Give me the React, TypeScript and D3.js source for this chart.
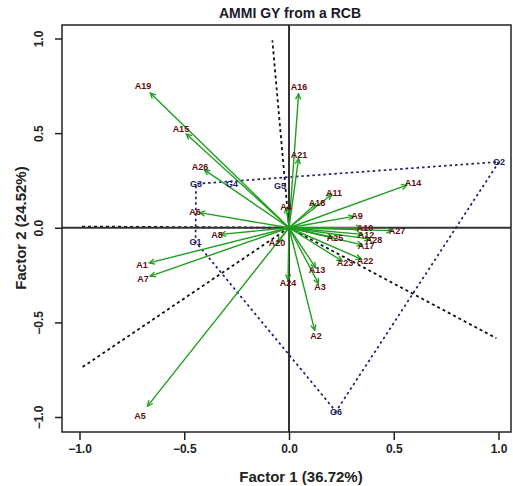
import React, { useEffect, useRef } from 'react';
import * as d3 from 'd3';

// genotype scores (arrows)
const genotypes = ['A1', 'A2', 'A3', 'A4', 'A5', 'A6', 'A7', 'A8', 'A9', 'A10', 'A11', 'A12', 'A13', 'A14',
  'A15', 'A16', 'A17', 'A18', 'A19', 'A20', 'A21', 'A22', 'A23', 'A24', 'A25', 'A26', 'A27', 'A28'];
const genoPC1 = [-0.702, 0.129, 0.148, -0.014, -0.711, -0.449, -0.697, -0.344, 0.325, 0.363, 0.215, 0.368, 0.134, 0.592,
  -0.516, 0.048, 0.368, 0.134, -0.697, -0.057, 0.048, 0.363, 0.267, -0.005, 0.22, -0.425, 0.516, 0.406];
const genoPC2 = [-0.195, -0.57, -0.311, 0.111, -0.992, 0.084, -0.269, -0.037, 0.063, 0.0, 0.185, -0.037, -0.222, 0.237,
  0.522, 0.744, -0.095, 0.132, 0.749, -0.079, 0.385, -0.174, -0.185, -0.29, -0.053, 0.322, -0.016, -0.063];

// environment scores
const envs = ['G1', 'G2', 'G3', 'G4', 'G5', 'G6'];
const envPC1 = [-0.446, 1.002, -0.444, -0.272, -0.043, 0.224];
const envPC2 = [-0.074, 0.348, 0.232, 0.232, 0.222, -0.971];

const xTicks = [-1, -0.5, 0, 0.5, 1];
const yTicks = [-1, -0.5, 0, 0.5, 1];

const title = 'AMMI GY from a RCB';
const xLabel = 'Factor 1 (36.72%)';
const yLabel = 'Factor 2 (24.52%)';

const App = () => {
  const ref = useRef(null);

  useEffect(() => {
    const W = 513, H = 486;
    const box = { left: 62, right: 511, top: 25, bottom: 432 };
    const font = 'Liberation Sans, Arial, sans-serif';

    const svg = d3.select(ref.current);
    svg.selectAll('*').remove();
    svg.attr('width', W).attr('height', H);

    const x = d3.scaleLinear().domain([-1, 1]).range([79.5, 498.5]);
    const y = d3.scaleLinear().domain([-1, 1]).range([417, 38.5]);
    const fmt = (d) => d3.format('.1f')(d);

    svg.append('rect').attr('width', W).attr('height', H).attr('fill', '#fff');

    svg.append('defs').append('clipPath').attr('id', 'plotclip')
      .append('rect')
      .attr('x', box.left).attr('y', box.top)
      .attr('width', box.right - box.left).attr('height', box.bottom - box.top);

    const g = svg.append('g').attr('clip-path', 'url(#plotclip)');

    // convex hull of environments + perpendicular rays
    const pts = envs.map((_, i) => [envPC1[i], envPC2[i]]);
    const hull = d3.polygonHull(pts) || [];
    hull.forEach((p, i) => {
      const q = hull[(i + 1) % hull.length];
      let nx = -(q[1] - p[1]);
      let ny = q[0] - p[0];
      if (nx * p[0] + ny * p[1] < 0) { nx = -nx; ny = -ny; }
      const t = 0.99 / Math.max(Math.abs(nx), Math.abs(ny));
      g.append('line')
        .attr('x1', x(0)).attr('y1', y(0))
        .attr('x2', x(nx * t)).attr('y2', y(ny * t))
        .attr('stroke', '#111').attr('stroke-width', 1.8)
        .attr('stroke-dasharray', '3,3');
    });

    // zero lines
    g.append('line').attr('x1', box.left).attr('x2', box.right).attr('y1', y(0)).attr('y2', y(0))
      .attr('stroke', '#333').attr('stroke-width', 2);
    g.append('line').attr('x1', x(0)).attr('x2', x(0)).attr('y1', box.top).attr('y2', box.bottom)
      .attr('stroke', '#333').attr('stroke-width', 2);

    g.append('path')
      .datum(hull)
      .attr('d', d3.line().x(d => x(d[0])).y(d => y(d[1])).curve(d3.curveLinearClosed))
      .attr('fill', 'none')
      .attr('stroke', '#1c1c6e').attr('stroke-width', 1.7)
      .attr('stroke-dasharray', '2.5,3');

    // genotype arrows
    const green = '#1f9e1f';
    genotypes.forEach((name, i) => {
      const x0 = x(0), y0 = y(0);
      const px = x(genoPC1[i]), py = y(genoPC2[i]);
      const tx = x0 + 0.95 * (px - x0), ty = y0 + 0.95 * (py - y0);
      const a = Math.atan2(ty - y0, tx - x0);
      const L = 6, sp = 0.45;
      g.append('line')
        .attr('x1', x0).attr('y1', y0).attr('x2', tx).attr('y2', ty)
        .attr('stroke', green).attr('stroke-width', 1.4);
      g.append('path')
        .attr('d', `M${tx - L * Math.cos(a - sp)},${ty - L * Math.sin(a - sp)}L${tx},${ty}L${tx - L * Math.cos(a + sp)},${ty - L * Math.sin(a + sp)}`)
        .attr('fill', 'none').attr('stroke', green).attr('stroke-width', 1.3);
    });

    // genotype labels
    g.selectAll('text.geno')
      .data(genotypes)
      .join('text')
      .attr('class', 'geno')
      .attr('x', (d, i) => x(genoPC1[i]))
      .attr('y', (d, i) => y(genoPC2[i]))
      .attr('dy', '0.35em')
      .attr('text-anchor', 'middle')
      .attr('font-family', font)
      .attr('font-size', 9)
      .attr('font-weight', 'bold')
      .attr('fill', '#5e1010')
      .text(d => d);

    // environment labels
    g.selectAll('text.env')
      .data(envs)
      .join('text')
      .attr('class', 'env')
      .attr('x', (d, i) => x(envPC1[i]))
      .attr('y', (d, i) => y(envPC2[i]))
      .attr('dy', '0.35em')
      .attr('text-anchor', 'middle')
      .attr('font-family', font)
      .attr('font-size', 9)
      .attr('font-weight', 'bold')
      .attr('fill', '#1c1c5e')
      .text(d => d);

    // frame
    svg.append('rect')
      .attr('x', box.left).attr('y', box.top)
      .attr('width', box.right - box.left).attr('height', box.bottom - box.top)
      .attr('fill', 'none').attr('stroke', '#222').attr('stroke-width', 1.5);

    // axes
    const xAxis = svg.append('g')
      .attr('transform', `translate(0,${box.bottom})`)
      .call(d3.axisBottom(x).tickValues(xTicks).tickFormat(fmt).tickSize(8).tickPadding(4));
    xAxis.select('.domain').remove();
    xAxis.selectAll('line').attr('stroke', '#222').attr('stroke-width', 1.5);
    xAxis.selectAll('text').attr('font-family', font).attr('font-size', 12)
      .attr('font-weight', 'bold').attr('fill', '#222');

    const yAxis = svg.append('g')
      .attr('transform', `translate(${box.left},0)`)
      .call(d3.axisLeft(y).tickValues(yTicks).tickFormat(fmt).tickSize(7));
    yAxis.select('.domain').remove();
    yAxis.selectAll('line').attr('stroke', '#222').attr('stroke-width', 1.5);
    yAxis.selectAll('text')
      .attr('x', null).attr('dy', null)
      .attr('transform', 'translate(-19,0) rotate(-90)')
      .attr('text-anchor', 'middle')
      .attr('font-family', font).attr('font-size', 12)
      .attr('font-weight', 'bold').attr('fill', '#222');

    // titles
    svg.append('text')
      .attr('x', 290).attr('y', 18)
      .attr('text-anchor', 'middle')
      .attr('font-family', font).attr('font-size', 14).attr('font-weight', 'bold')
      .attr('fill', '#1a1a2a')
      .text(title);

    svg.append('text')
      .attr('x', 301).attr('y', 482)
      .attr('text-anchor', 'middle')
      .attr('font-family', font).attr('font-size', 15).attr('font-weight', 'bold')
      .attr('fill', '#222')
      .text(xLabel);

    svg.append('text')
      .attr('transform', `translate(26,${228}) rotate(-90)`)
      .attr('text-anchor', 'middle')
      .attr('font-family', font).attr('font-size', 15).attr('font-weight', 'bold')
      .attr('fill', '#222')
      .text(yLabel);
  }, []);

  return (
    <svg ref={ref} style={{ position: 'absolute', left: 0, top: 0 }}></svg>
  );
};

export default App;
